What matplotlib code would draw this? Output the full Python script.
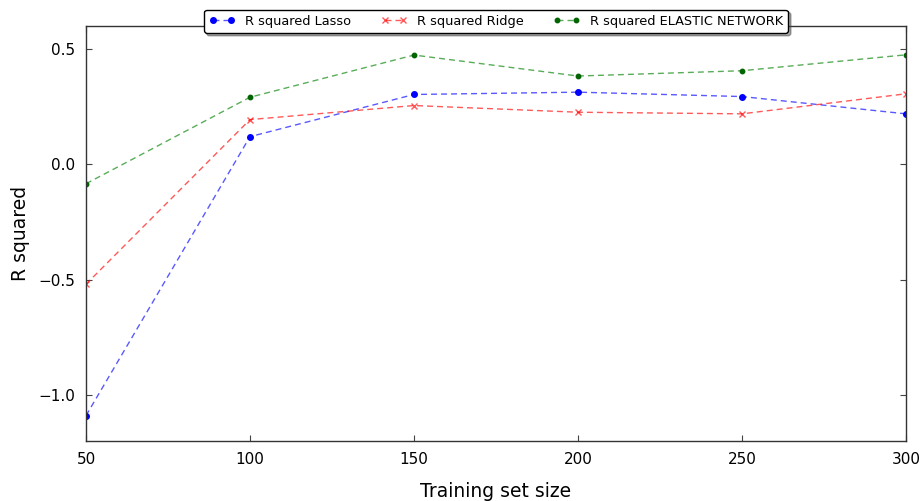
import matplotlib
matplotlib.use('Agg')
import matplotlib.pyplot as plt

# Data
train_sizes = [50, 100, 150, 200, 250, 300]
r2_lasso = [-1.09, 0.12, 0.303, 0.313, 0.294, 0.219]
r2_ridge = [-0.52, 0.194, 0.255, 0.226, 0.219, 0.306]
r2_elastic = [-0.084, 0.291, 0.474, 0.383, 0.406, 0.475]

fig = plt.figure(figsize=(9.21, 5.01), dpi=100)
ax = fig.add_axes([86 / 921, 1 - 441 / 501, 820 / 921, 415 / 501])

dash = (0, (4.3, 2.9))
ax.plot(train_sizes, r2_lasso, linestyle=dash, linewidth=1, color=(0, 0, 1, 0.65),
        marker='o', markersize=4, markerfacecolor='b', markeredgecolor='b',
        label='R squared Lasso')
ax.plot(train_sizes, r2_ridge, linestyle=dash, linewidth=1, color=(1, 0, 0, 0.65),
        marker='x', markersize=4, markeredgecolor=(1, 0, 0, 0.65),
        label='R squared Ridge')
ax.plot(train_sizes, r2_elastic, linestyle=dash, linewidth=1, color=(0, 0.5, 0, 0.65),
        marker='o', markersize=3.2, markerfacecolor='#006400', markeredgecolor='#006400',
        label='R squared ELASTIC NETWORK')

ax.set_xlim(50, 300)
ax.set_ylim(-1.2, 0.6)
ax.set_xticks([50, 100, 150, 200, 250, 300])
ax.set_yticks([-1.0, -0.5, 0.0, 0.5])
ax.tick_params(direction='in', top=True, right=True, length=4, width=0.8,
               color='#444444', labelsize=11, pad=8)
for sp in ax.spines.values():
    sp.set_color('#333333')
    sp.set_linewidth(1)

ax.set_xlabel('Training set size', fontsize=13.5, labelpad=11)
ax.set_ylabel('R squared', fontsize=13.5, labelpad=6)

leg = ax.legend(loc='upper center', bbox_to_anchor=(0.5, 1.055), ncol=3,
                fontsize=9.3, numpoints=2, fancybox=True, shadow=True,
                framealpha=1, edgecolor='black', borderpad=0.4,
                handlelength=2, columnspacing=2.3, handletextpad=0.8)
leg.get_frame().set_linewidth(1)

fig.savefig('out.png', dpi=100)
